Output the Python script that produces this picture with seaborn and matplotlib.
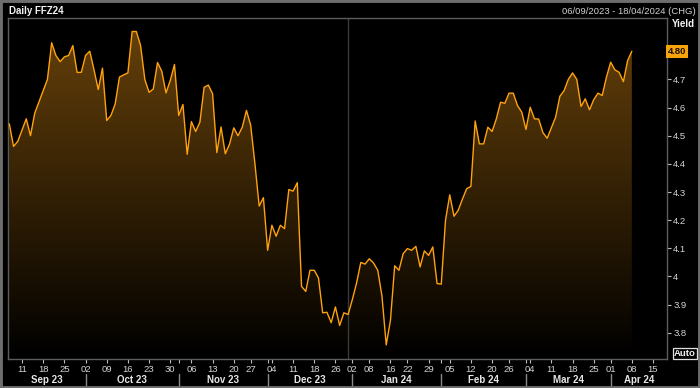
import numpy as np
import pandas as pd
import matplotlib
matplotlib.use("Agg")
import matplotlib.pyplot as plt
import matplotlib.transforms as mtransforms
from matplotlib.path import Path
from matplotlib.patches import Rectangle
import seaborn as sns

# ---------------- data ----------------
start_date = "2023-09-06"
end_date = "2024-04-18"
holidays = ["2023-11-23", "2023-12-25", "2024-01-01", "2024-01-15",
            "2024-02-19", "2024-03-29"]
yields = [
    4.542, 4.462, 4.48, 4.52, 4.56, 4.50, 4.58, 4.62, 4.66, 4.70,
    4.83, 4.785, 4.763, 4.78, 4.785, 4.82, 4.725, 4.725, 4.785, 4.80,
    4.734, 4.664, 4.74, 4.554, 4.572, 4.613, 4.708, 4.716, 4.723, 4.87,
    4.87, 4.82, 4.70, 4.654, 4.666, 4.76, 4.729, 4.652, 4.696, 4.753,
    4.572, 4.611, 4.434, 4.55, 4.515, 4.548, 4.672, 4.68, 4.649, 4.44,
    4.531, 4.436, 4.47, 4.528, 4.50, 4.53, 4.59, 4.537, 4.40, 4.25,
    4.28, 4.093, 4.182, 4.143, 4.182, 4.170, 4.309, 4.303, 4.333, 3.965,
    3.947, 4.022, 4.022, 3.995, 3.871, 3.873, 3.836, 3.892, 3.826, 3.871,
    3.865, 3.918, 3.977, 4.050, 4.044, 4.063, 4.048, 4.022, 3.93, 3.757,
    3.845, 4.038, 4.022, 4.081, 4.099, 4.093, 4.107, 4.034, 4.091, 4.075,
    4.105, 3.975, 3.973, 4.20, 4.29, 4.214, 4.235, 4.275, 4.312, 4.32,
    4.552, 4.471, 4.471, 4.53, 4.515, 4.56, 4.619, 4.615, 4.651, 4.651,
    4.607, 4.584, 4.522, 4.601, 4.56, 4.559, 4.511, 4.491, 4.529, 4.566,
    4.64, 4.66, 4.70, 4.723, 4.70, 4.604, 4.631, 4.592, 4.628, 4.651,
    4.643, 4.708, 4.761, 4.734, 4.725, 4.692, 4.767, 4.80,
]
y_ticks = [3.8, 3.9, 4.0, 4.1, 4.2, 4.3, 4.4, 4.5, 4.6, 4.7]
y_tick_labels = ["3.8", "3.9", "4", "4.1", "4.2", "4.3", "4.4", "4.5", "4.6", "4.7"]
title = "Daily FFZ24"
range_text = "06/09/2023 - 18/04/2024 (CHG)"
last_label = "4.80"

# ---------------- axis dates (business days) ----------------
bdays = pd.bdate_range(start_date, end_date, freq="C", holidays=holidays)
pos = np.arange(len(bdays))
xs = pos[:len(yields)]
ys = np.array(yields)

df = pd.DataFrame({"x": xs, "y": ys})

# weekly ticks: first business day of each week (skip first partial week)
week_key = bdays.to_period("W")
first_of_week = ~pd.Series(week_key).duplicated().values
week_pos = pos[first_of_week][1:]
week_lab = [f"{d.day:02d}" for d in bdays[first_of_week][1:]]
# month boundaries
month_key = bdays.to_period("M")
first_of_month = ~pd.Series(month_key).duplicated().values
month_pos = pos[first_of_month]
month_names = [d.strftime("%b %y") for d in bdays[first_of_month]]

# ---------------- style ----------------
sns.set_theme(style="dark", rc={"axes.facecolor": "black",
                                "figure.facecolor": "black"})
plt.rcParams["font.family"] = ["Liberation Sans", "DejaVu Sans"]

W, H = 700, 388
fig = plt.figure(figsize=(W / 100, H / 100), dpi=100)
ax = fig.add_axes([8 / W, 29 / H, 659 / W, 341 / H])
ax.set_facecolor("black")

xmin, xmax = -0.31, 155.3
ymin, ymax = 3.707, 4.918
ax.set_xlim(xmin, xmax)
ax.set_ylim(ymin, ymax)

# gradient fill under line
top_col = np.array([104, 66, 10]) / 255.0
grad = np.linspace(0, 1, 256)[:, None]
img = (grad[..., None] * top_col[None, None, :])
im = ax.imshow(img, extent=[xmin, xmax, ymin, ymax], origin="lower",
               aspect="auto", zorder=1, interpolation="bilinear")
verts = [(xs[0], ymin)] + list(zip(xs, ys)) + [(xs[-1], ymin), (xs[0], ymin)]
clip = Path(verts, closed=True)
im.set_clip_path(clip, transform=ax.transData)

# year separator line
ax.axvline(month_pos[4] - 1, color="#3a3a3a", lw=1.0, zorder=2)

sns.lineplot(data=df, x="x", y="y", ax=ax, color="#ffa20c", linewidth=1.0,
             zorder=3)
ax.set_xlabel("")
ax.set_ylabel("")
ax.grid(False)

spine_col = "#5c5c5c"
for s in ["top", "left", "bottom", "right"]:
    ax.spines[s].set_visible(True)
    ax.spines[s].set_color(spine_col)
    ax.spines[s].set_linewidth(1.0)

# y axis on right
ax.yaxis.tick_right()
ax.set_yticks(y_ticks)
ax.set_yticklabels(y_tick_labels)
ax.tick_params(axis="y", which="major", direction="out", length=3, width=0.8,
               color="#bdbdbd", labelcolor="#d4d4d4", labelsize=6.8, pad=1.5,
               right=True, left=False)

# x axis
ax.set_xticks(week_pos)
ax.set_xticklabels(week_lab)
ax.set_xticks(month_pos[1:], minor=True)
ax.tick_params(axis="x", which="major", direction="out", length=3, width=0.8,
               color="#bdbdbd", labelcolor="#d4d4d4", labelsize=6.8, pad=1.5,
               bottom=True)
ax.tick_params(axis="x", which="minor", direction="out", length=3, width=0.8,
               color="#bdbdbd", bottom=True)

trans = mtransforms.blended_transform_factory(ax.transData, ax.transAxes)
bounds = list(month_pos[1:]) + [xmax]
left_b = [xmin] + list(month_pos[1:])
for name, a, b in zip(month_names, left_b, bounds):
    ax.text((a + b) / 2, -0.0625, name, transform=trans, ha="center",
            va="center", color="#e6e6e6", fontsize=7, fontweight="bold",
            clip_on=False)
for mp in month_pos[1:]:
    ax.plot([mp, mp], [-0.045, -0.078], transform=trans, color="#8a8a8a",
            lw=1.0, clip_on=False)

# last value box
tr_y = mtransforms.blended_transform_factory(ax.transAxes, ax.transData)
ax.text(1.0015, ys[-1], last_label, transform=tr_y, ha="left", va="center",
        fontsize=6.8, fontweight="bold", color="#1a1000",
        bbox=dict(boxstyle="square,pad=0.22", fc="#f7a30c", ec="none"),
        clip_on=False)

# header texts
fig.text(9 / W, 1 - 11 / H, title, ha="left", va="center", color="#f2f2f2",
         fontsize=7, fontweight="bold")
fig.text(696 / W, 1 - 11 / H, range_text, ha="right", va="center",
         color="#cfcfcf", fontsize=6.8)
fig.text(695 / W, 1 - 24 / H, "Yield", ha="right", va="center",
         color="#f2f2f2", fontsize=7, fontweight="bold")
fig.text(685 / W, 1 - 353.5 / H, "Auto", ha="center", va="center",
         color="#f2f2f2", fontsize=6.8, fontweight="bold",
         bbox=dict(boxstyle="square,pad=0.12", fc="black", ec="#e0e0e0",
                   lw=0.9))

# outer frame
fig.patches.append(Rectangle((0, 0), 1, 1, transform=fig.transFigure,
                             fill=False, ec="#6e6e6e", lw=3.5))

fig.savefig("out.png", dpi=100, facecolor="black")
